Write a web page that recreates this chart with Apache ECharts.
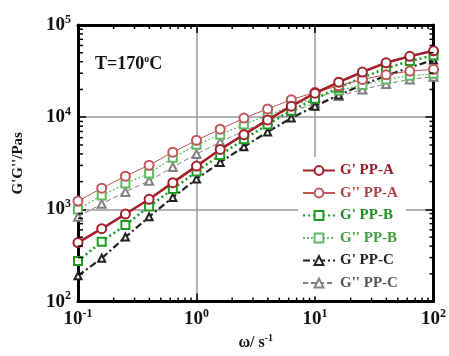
<!DOCTYPE html>
<html>
<head>
<meta charset="utf-8">
<script src="https://cdn.jsdelivr.net/npm/echarts@6/dist/echarts.min.js"></script>
<style>html,body{margin:0;padding:0;background:#fff}#c{width:449px;height:356px}</style>
</head>
<body>
<div id="c"></div>
<script>
const omega = [0.1, 0.1585, 0.2512, 0.3981, 0.631, 1, 1.585, 2.512, 3.981, 6.31, 10, 15.85, 25.12, 39.81, 63.1, 100];
const gp_A  = [437, 617, 891, 1288, 1950, 2951, 4467, 6457, 9333, 13183, 18197, 23988, 30903, 38905, 45709, 52481];
const gpp_A = [1230, 1698, 2291, 3020, 4169, 5623, 7413, 9772, 12303, 15488, 18621, 21878, 25704, 28840, 31623, 33113];
const gp_B  = [275, 447, 676, 1072, 1660, 2570, 3890, 5754, 8318, 11749, 15849, 20893, 26915, 33884, 40738, 46774];
const gpp_B = [1000, 1413, 1905, 2455, 3631, 5012, 6457, 8318, 10471, 13183, 16218, 19498, 22387, 25704, 28184, 29512];
const gp_C  = [191, 295, 501, 832, 1349, 2138, 3236, 4786, 6918, 9772, 13183, 17378, 22387, 28184, 34674, 41687];
const gpp_C = [832, 1148, 1549, 2042, 2884, 3981, 5370, 7079, 9120, 11482, 14125, 16982, 19953, 22909, 25704, 27542];
const seriesNames = ["G' PP-A", "G'' PP-A", "G' PP-B", "G'' PP-B", "G' PP-C", "G'' PP-C"];
const xMinorTicks = [0.2,0.3,0.4,0.5,0.6,0.7,0.8,0.9,2,3,4,5,6,7,8,9,20,30,40,50,60,70,80,90];
const yMinorTicks = [200,300,400,500,600,700,800,900,2000,3000,4000,5000,6000,7000,8000,9000,20000,30000,40000,50000,60000,70000,80000,90000];

const FONT = 'Liberation Serif';
const pair = (ys) => omega.map((x, i) => [x, ys[i]]);
const supFmt = (v) => '{b|10}{s|' + Math.round(Math.log10(v)) + '}';
const labRich = {
  b: {fontFamily: FONT, fontWeight: 'bold', fontSize: 19, color: '#111'},
  s: {fontFamily: FONT, fontWeight: 'bold', fontSize: 12, color: '#111', padding: [0, 0, 11, 0]}
};

const styles = [
  {color: '#a3202b', width: 2.6, type: 'solid', symbol: 'emptyCircle', size: 9},
  {color: '#c0555a', width: 1, type: 'solid', symbol: 'emptyCircle', size: 9},
  {color: '#1f9a22', width: 2.6, type: [2, 3], symbol: 'emptyRect', size: 8},
  {color: '#62b862', width: 1.2, type: [2, 2], symbol: 'emptyRect', size: 8},
  {color: '#222222', width: 2.2, type: [7, 3, 2, 3], symbol: 'emptyTriangle', size: 7},
  {color: '#808080', width: 1, type: [5, 3], symbol: 'emptyTriangle', size: 8}
];
const dataSets = [gp_A, gpp_A, gp_B, gpp_B, gp_C, gpp_C];
const legendColors = ['#9a1c28', '#b0444a', '#1f8f22', '#3f9f3f', '#222222', '#555555'];

const lineSeries = dataSets.map((d, i) => ({
  name: seriesNames[i], type: 'line', data: pair(d),
  symbol: styles[i].symbol, symbolSize: styles[i].size, z: 3 + (5 - i),
  lineStyle: {color: styles[i].color, width: styles[i].width, type: styles[i].type},
  itemStyle: {color: styles[i].color, borderWidth: 1.2},
  animation: false
}));

const tickSeriesX = {
  type: 'custom', xAxisIndex: 0, yAxisIndex: 0, silent: true, z: 10, clip: false,
  data: xMinorTicks.map(v => [v, 1000]),
  renderItem: function (params, api) {
    const cs = params.coordSys;
    const x = api.coord([api.value(0), 1000])[0];
    const b = cs.y + cs.height, t = cs.y;
    return {type: 'group', children: [
      {type: 'line', shape: {x1: x, y1: b, x2: x, y2: b - 4}, style: {stroke: '#000', lineWidth: 1.5}},
      {type: 'line', shape: {x1: x, y1: t, x2: x, y2: t + 4}, style: {stroke: '#000', lineWidth: 1.5}}
    ]};
  }
};
const tickSeriesY = {
  type: 'custom', xAxisIndex: 0, yAxisIndex: 0, silent: true, z: 10, clip: false,
  data: yMinorTicks.map(v => [1, v]),
  renderItem: function (params, api) {
    const cs = params.coordSys;
    const y = api.coord([1, api.value(1)])[1];
    const l = cs.x, r = cs.x + cs.width;
    return {type: 'group', children: [
      {type: 'line', shape: {x1: l, y1: y, x2: l + 5, y2: y}, style: {stroke: '#000', lineWidth: 1.5}},
      {type: 'line', shape: {x1: r, y1: y, x2: r - 4, y2: y}, style: {stroke: '#000', lineWidth: 1.5}}
    ]};
  }
};

const chart = echarts.init(document.getElementById('c'), null, {renderer: 'canvas'});
chart.setOption({
  animation: false,
  backgroundColor: '#fff',
  grid: {left: 78, right: 14, top: 25, bottom: 41, containLabel: false},
  xAxis: [
    {type: 'log', logBase: 10, min: 0.1, max: 100, position: 'bottom',
     name: '{n|ω/ s}{s|-1}', nameLocation: 'middle', nameGap: 29,
     nameTextStyle: {rich: {
       n: {fontFamily: FONT, fontWeight: 'bold', fontSize: 16, color: '#111'},
       s: {fontFamily: FONT, fontWeight: 'bold', fontSize: 10, color: '#111', padding: [0, 0, 9, 0]}}},
     axisLine: {show: true, lineStyle: {color: '#000', width: 3}},
     axisTick: {show: true, inside: true, length: 8, lineStyle: {color: '#000', width: 1.5}},
     axisLabel: {formatter: supFmt, rich: labRich, margin: 6, showMinLabel: true, showMaxLabel: true},
     splitLine: {show: true, lineStyle: {color: '#999', width: 1.5}},
     minorTick: {show: false}},
    {type: 'log', logBase: 10, min: 0.1, max: 100, position: 'top',
     axisLine: {show: true, lineStyle: {color: '#000', width: 3}},
     axisTick: {show: true, inside: true, length: 8, lineStyle: {color: '#000', width: 1.5}},
     axisLabel: {show: false}, splitLine: {show: false}}
  ],
  yAxis: [
    {type: 'log', logBase: 10, min: 100, max: 100000, position: 'left',
     name: "G'G''/Pas", nameLocation: 'middle', nameGap: 52, nameRotate: 90,
     nameTextStyle: {fontFamily: FONT, fontWeight: 'bold', fontSize: 15, color: '#111'},
     axisLine: {show: true, lineStyle: {color: '#000', width: 3}},
     axisTick: {show: true, inside: true, length: 8, lineStyle: {color: '#000', width: 1.5}},
     axisLabel: {formatter: supFmt, rich: labRich, margin: 7, showMinLabel: true, showMaxLabel: true},
     splitLine: {show: true, lineStyle: {color: '#999', width: 1.5}}},
    {type: 'log', logBase: 10, min: 100, max: 100000, position: 'right',
     axisLine: {show: true, lineStyle: {color: '#000', width: 3}},
     axisTick: {show: true, inside: true, length: 8, lineStyle: {color: '#000', width: 1.5}},
     axisLabel: {show: false}, splitLine: {show: false}}
  ],
  legend: {
    orient: 'vertical', left: 298, top: 157, itemGap: 7.5, itemWidth: 32, itemHeight: 11,
    backgroundColor: '#fff', padding: [6, 8, 6, 4],
    textStyle: {fontFamily: FONT, fontWeight: 'bold', fontSize: 15},
    data: seriesNames.map((n, i) => ({name: n, textStyle: {color: legendColors[i]}}))
  },
  graphic: [{
    type: 'text', left: 95, top: 54, z: 20,
    style: {
      text: '{a|T=170}{s|o}{a|C}',
      rich: {
        a: {fontFamily: FONT, fontWeight: 'bold', fontSize: 18, fill: '#111'},
        s: {fontFamily: FONT, fontWeight: 'bold', fontSize: 10, fill: '#111', padding: [0, 0, 10, 0]}
      }
    }
  }],
  series: lineSeries.concat([tickSeriesX, tickSeriesY])
});
</script>
</body>
</html>
